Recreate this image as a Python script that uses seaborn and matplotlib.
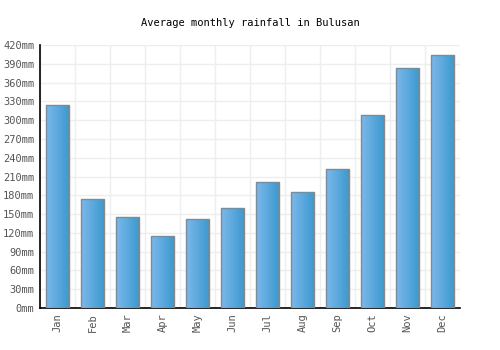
import numpy as np
import pandas as pd
import matplotlib
matplotlib.use("Agg")
import matplotlib.pyplot as plt
import seaborn as sns
from matplotlib.colors import LinearSegmentedColormap

months = ["Jan", "Feb", "Mar", "Apr", "May", "Jun",
          "Jul", "Aug", "Sep", "Oct", "Nov", "Dec"]
rainfall = [325, 174, 145, 115, 142, 159, 201, 185, 222, 308, 383, 405]
yticks = list(range(0, 421, 30))
ytick_labels = [f"{v}mm" for v in yticks]

df = pd.DataFrame({"month": months, "rain": rainfall})

sns.set_style("white")
plt.rcParams["font.family"] = ["DejaVu Sans Mono"]

fig = plt.figure(figsize=(5, 3.5), dpi=100)
ax = fig.add_axes([0.08, 0.12, 0.84, 0.751])

sns.barplot(data=df, x="month", y="rain", ax=ax, width=0.67,
            color="#4ea3dc", edgecolor="#888888", linewidth=1, zorder=3)

# horizontal gradient on each bar
cmap = LinearSegmentedColormap.from_list("g", ["#7db8ea", "#3a98cf"])
grad = np.linspace(0, 1, 64).reshape(1, -1)
for p in ax.patches:
    x0, y0 = p.get_x(), p.get_y()
    w, h = p.get_width(), p.get_height()
    im = ax.imshow(grad, cmap=cmap, aspect="auto", zorder=3.5,
                   extent=[x0, x0 + w, y0, y0 + h], interpolation="bilinear")
    im.set_clip_path(p)
    p.set_facecolor("none")
    p.set_zorder(4)

ax.set_xlim(-0.5, 11.5)
ax.set_ylim(0, 420)
ax.set_yticks(yticks)
ax.set_yticklabels(ytick_labels)
ax.set_xticks(np.arange(12))
ax.set_xticklabels(months, rotation=90)
ax.set_xticks(np.arange(-0.5, 12, 1), minor=True)

ax.grid(axis="y", color="#eeeeee", linewidth=1, zorder=0)
ax.grid(axis="x", which="minor", color="#eeeeee", linewidth=1, zorder=0)
ax.grid(axis="x", which="major", visible=False)
ax.set_axisbelow(True)

for s in ["top", "right"]:
    ax.spines[s].set_visible(False)
ax.spines["left"].set_color("black")
ax.spines["bottom"].set_color("black")
ax.spines["left"].set_linewidth(1.2)
ax.spines["bottom"].set_linewidth(1.2)

ax.tick_params(axis="both", length=0, labelsize=7.5, labelcolor="#555555", pad=4)
ax.tick_params(axis="x", which="minor", length=0)
ax.set_xlabel("")
ax.set_ylabel("")
ax.set_title("Average monthly rainfall in Bulusan", fontsize=7.5, color="black", pad=14)

fig.savefig("out.png", dpi=100)
